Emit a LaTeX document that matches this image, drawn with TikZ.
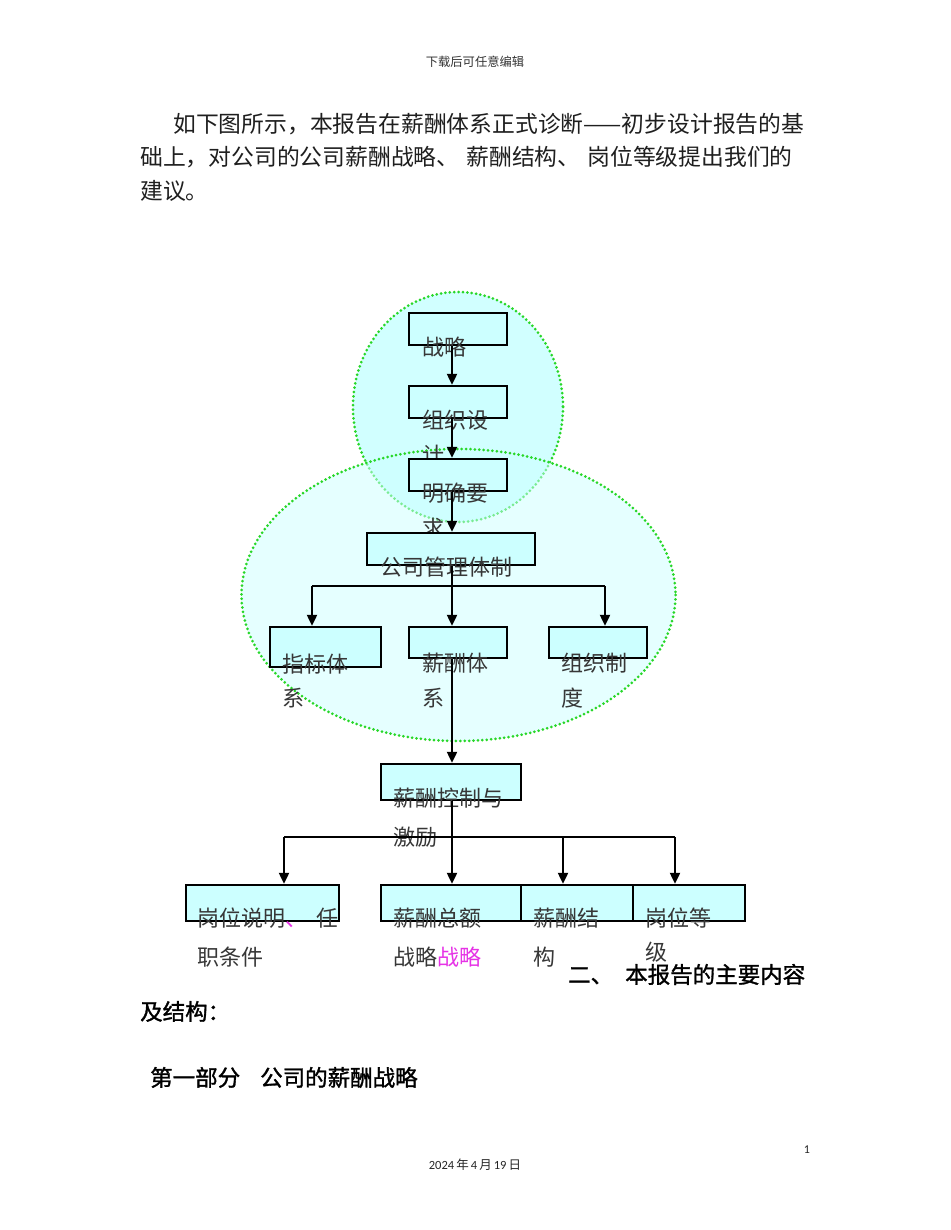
\documentclass[tikz,border=0pt]{standalone}
\usepackage{fontspec}
\usetikzlibrary{arrows.meta}
\newfontfamily\cjk{Noto Sans CJK SC}
\newfontfamily\cjkm[FakeBold=1.4]{Noto Sans CJK SC}
\newfontfamily\latf{Carlito}
\definecolor{boxfill}{RGB}{204,255,255}
\definecolor{circfill}{RGB}{204,255,255}
\definecolor{ellfill}{RGB}{205,255,255}
\definecolor{dotgreen}{RGB}{40,215,40}
\definecolor{txtgray}{RGB}{55,55,55}
\definecolor{mag}{RGB}{230,50,230}
\begin{document}
\begin{tikzpicture}[x=1pt,y=-1pt,
  boxn/.style={draw=black, line width=2.3pt, fill=boxfill, inner sep=0pt},
  lbl/.style={anchor=base west, inner sep=0pt, text=txtgray, font=\cjk\fontsize{22}{22}\selectfont},
  para/.style={anchor=base west, inner sep=0pt, text=black!88, font=\cjk\fontsize{22.8}{24}\selectfont},
  head/.style={anchor=base west, inner sep=0pt, text=black, font=\cjkm\fontsize{22.5}{24}\selectfont},
  ln/.style={line width=2pt, draw=black},
  arr/.style={line width=2pt, draw=black, -{Triangle[length=11pt,width=10pt]}},
  dotb/.style={draw=dotgreen, line width=3pt, dash pattern=on 0pt off 4.4pt, line cap=round}
]
\useasboundingbox (0,0) rectangle (950,1230);
\fill[white] (0,0) rectangle (950,1230);

% header
\node[inner sep=0pt, text=black!80, font=\cjk\fontsize{12.3}{13}\selectfont] (hdr) at (475,62) {下载后可任意编辑};

% paragraph
\node[para] (p1) at (173,133) {如下图所示，本报告在薪酬体系正式诊断——初步设计报告的基};
\node[para] (p2) at (140,166) {础上，对公司的公司薪酬战略、\hspace{7pt}薪酬结构、\hspace{7pt}岗位等级提出我们的};
\node[para] (p3) at (140,200) {建议。};

% ellipses
\path[fill=circfill, fill opacity=0.9, dotb] (458,407) ellipse [x radius=105, y radius=115];
\path[fill=ellfill, fill opacity=0.5, dotb] (458.5,595) ellipse [x radius=217, y radius=146];

% boxes and labels
\node[boxn, minimum width=98pt, minimum height=32pt] (b1) at (458,329) {};
\node[lbl] (t1) at (422,355) {战略};
\node[boxn, minimum width=98pt, minimum height=32pt] (b2) at (458,402) {};
\node[lbl] (t2a) at (422,428) {组织设};
\node[lbl] (t2b) at (422,463) {计};
\node[boxn, minimum width=98pt, minimum height=32pt] (b3) at (458,475) {};
\node[lbl] (t3a) at (422,501) {明确要};
\node[lbl] (t3b) at (422,536) {求};
\node[boxn, minimum width=168pt, minimum height=32pt] (b4) at (451,549) {};
\node[lbl] (t4) at (380,575) {公司管理体制};

\node[boxn, minimum width=111pt, minimum height=40pt] (b5) at (325.5,647) {};
\node[lbl] (t5a) at (282,672) {指标体};
\node[lbl] (t5b) at (282,706) {系};
\node[boxn, minimum width=98pt, minimum height=31pt] (b6) at (458,642.5) {};
\node[lbl] (t6a) at (422,671) {薪酬体};
\node[lbl] (t6b) at (422,706) {系};
\node[boxn, minimum width=98pt, minimum height=31pt] (b7) at (598,642.5) {};
\node[lbl] (t7a) at (561,671) {组织制};
\node[lbl] (t7b) at (561,706) {度};

\node[boxn, minimum width=140pt, minimum height=36pt] (b8) at (451,782) {};
\node[lbl] (t8a) at (393,806) {薪酬控制与};
\node[lbl] (t8b) at (393,845) {激励};

\node[boxn, minimum width=153pt, minimum height=36pt] (b9) at (262.5,903) {};
\node[lbl] (t9a) at (197,926) {岗位说明\textcolor{mag}{、}\hspace{9pt}任};
\node[lbl] (t9b) at (197,965) {职条件};
\node[boxn, minimum width=140pt, minimum height=36pt] (b10) at (451,903) {};
\node[lbl] (t10a) at (393,926) {薪酬总额};
\node[lbl] (t10b) at (393,965) {战略\textcolor{mag}{战略}};
\node[boxn, minimum width=112pt, minimum height=36pt] (b11) at (577,903) {};
\node[lbl] (t11a) at (533,926) {薪酬结};
\node[lbl] (t11b) at (533,965) {构};
\node[boxn, minimum width=112pt, minimum height=36pt] (b12) at (689,903) {};
\node[lbl] (t12a) at (645,926) {岗位等};
\node[lbl] (t12b) at (645,960) {级};

% connectors
\coordinate (cx) at (452,0);
\draw[arr] (cx |- b1.south) -- (cx |- b2.north);
\draw[arr] (cx |- b2.south) -- (cx |- b3.north);
\draw[arr] (cx |- b3.south) -- (cx |- b4.north);

\coordinate (j1) at (452,586);
\coordinate (j1l) at (312,586);
\coordinate (j1r) at (605,586);
\draw[ln] (cx |- b4.south) -- (j1);
\draw[ln] (j1l) -- (j1r);
\draw[arr] (j1l) -- (j1l |- b5.north);
\draw[arr] (j1) -- (cx |- b6.north);
\draw[arr] (j1r) -- (j1r |- b7.north);
\draw[arr] (cx |- b6.south) -- (cx |- b8.north);

\coordinate (j2) at (452,837);
\coordinate (j2l) at (284,837);
\coordinate (j2m) at (563,837);
\coordinate (j2r) at (675,837);
\draw[ln] (cx |- b8.south) -- (j2);
\draw[ln] (j2l) -- (j2r);
\draw[arr] (j2l) -- (j2l |- b9.north);
\draw[arr] (j2) -- (cx |- b10.north);
\draw[arr] (j2m) -- (j2m |- b11.north);
\draw[arr] (j2r) -- (j2r |- b12.north);

% headings
\fill[white] (562,962) rectangle (815,992);
\node[head] (h1) at (568,983) {二、\hspace{12pt}本报告的主要内容};
\node[head] (h2) at (140,1020) {及结构：};
\node[head] (h3) at (150,1086) {第一部分\hspace{20pt}公司的薪酬战略};

% footer
\node[inner sep=0pt, font=\latf\fontsize{12}{13}\selectfont, text=black!85] (pg) at (807,1150) {1};
\node[inner sep=0pt, font=\fontsize{12.5}{13}\selectfont, text=black!85] (dt) at (475,1165) {\latf 2024\,\cjk 年\,\latf 4\,\cjk 月\,\latf 19\,\cjk 日};
\end{tikzpicture}
\end{document}
